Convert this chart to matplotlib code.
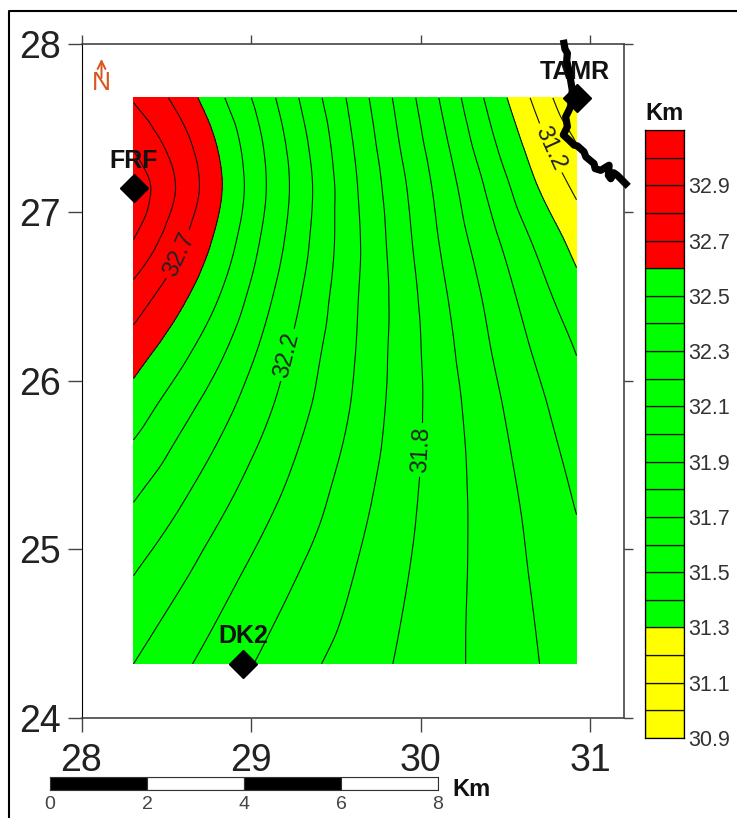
import numpy as np
import matplotlib
matplotlib.use('Agg')
import matplotlib.pyplot as plt
import matplotlib.tri as mtri
from matplotlib.lines import Line2D

plt.rcParams['font.family'] = ['Liberation Sans', 'DejaVu Sans']

# grid
grid_x = [28.307, 28.57, 28.83, 29.09, 29.35, 29.615, 29.875, 30.135, 30.40, 30.66, 30.92]
grid_y = [24.32, 24.82, 25.32, 25.83, 26.15, 26.48, 26.81, 27.145, 27.41, 27.68]
depth = [
    [32.20, 32.125, 32.05, 31.98, 31.915, 31.855, 31.79, 31.73, 31.67, 31.61, 31.55],
    [32.295, 32.215, 32.13, 32.05, 31.975, 31.895, 31.815, 31.74, 31.665, 31.595, 31.53],
    [32.41, 32.32, 32.225, 32.13, 32.04, 31.94, 31.84, 31.748, 31.658, 31.574, 31.49],
    [32.55, 32.44, 32.33, 32.215, 32.10, 31.985, 31.86, 31.748, 31.635, 31.535, 31.44],
    [32.64, 32.53, 32.405, 32.265, 32.13, 32.00, 31.865, 31.735, 31.61, 31.50, 31.40],
    [32.75, 32.625, 32.485, 32.32, 32.165, 32.01, 31.865, 31.715, 31.582, 31.457, 31.34],
    [32.89, 32.72, 32.555, 32.37, 32.195, 32.02, 31.85, 31.685, 31.54, 31.40, 31.27],
    [32.97, 32.79, 32.60, 32.40, 32.21, 32.01, 31.83, 31.655, 31.485, 31.32, 31.18],
    [32.885, 32.75, 32.575, 32.385, 32.19, 31.99, 31.80, 31.62, 31.43, 31.26, 31.10],
    [32.79, 32.67, 32.51, 32.34, 32.15, 31.96, 31.77, 31.58, 31.38, 31.19, 31.00],
]

levels = [30.9, 31.0, 31.1, 31.2, 31.3, 31.4, 31.5, 31.6, 31.7, 31.8, 31.9, 32.0,
          32.1, 32.2, 32.3, 32.4, 32.5, 32.6, 32.7, 32.8, 32.9, 33.0, 33.1]
label_levels = [31.2, 31.8, 32.2, 32.7]
plain_levels = [v for v in levels if v not in label_levels]
fill_levels = [30.9, 31.3, 32.6, 33.1]
fill_colors = ['#ffff00', '#00ff00', '#ff0000']
bar_labels = [30.9, 31.1, 31.3, 31.5, 31.7, 31.9, 32.1, 32.3, 32.5, 32.7, 32.9]

station_names = ['FRF', 'TAMR', 'DK2']
station_x = [28.307, 30.925, 28.955]
station_y = [27.145, 27.68, 24.32]
label_x = [28.307, 30.91, 28.955]
label_y = [27.305, 27.835, 24.485]

river_x = [30.846, 30.852, 30.866, 30.862, 30.87, 30.88, 30.885, 30.895, 30.885, 30.872, 30.856, 30.866,
           30.842, 30.875, 30.905, 30.925, 30.964, 30.975, 31.023, 31.03, 31.063, 31.095, 31.112, 31.108,
           31.122, 31.14, 31.161, 31.21]
river_y = [28.004, 27.97, 27.945, 27.90, 27.865, 27.82, 27.786, 27.726, 27.628, 27.60, 27.568, 27.509,
           27.46, 27.43, 27.40, 27.395, 27.36, 27.33, 27.29, 27.26, 27.25, 27.27, 27.28, 27.22,
           27.20, 27.235, 27.22, 27.17]

scale_edges = [0, 2, 4, 6]
scale_colors = ['black', 'white', 'black', 'white']
scale_ticks = [0, 2, 4, 6, 8]

W, H = 737, 818
fig = plt.figure(figsize=(W / 100, H / 100), dpi=100)


def box(left, top, right, bottom):
    return [left / W, 1 - bottom / H, (right - left) / W, (bottom - top) / H]


ax = fig.add_axes(box(81.5, 44, 624, 717.7))
ax.set_xlim(28, 31.2)
ax.set_ylim(24, 28)
X, Y = np.meshgrid(grid_x, grid_y)
tri = mtri.Triangulation(X.ravel(), Y.ravel())
interp = mtri.CubicTriInterpolator(tri, np.ravel(depth), kind='geom')
tri_fine, z_fine = mtri.UniformTriRefiner(tri).refine_field(np.ravel(depth), triinterpolator=interp, subdiv=3)
ax.tricontourf(tri_fine, z_fine, levels=fill_levels, colors=fill_colors)
ax.tricontour(tri_fine, z_fine, levels=plain_levels, colors='#111111', linewidths=0.8)
cs = ax.tricontour(tri_fine, z_fine, levels=label_levels, colors='#111111', linewidths=0.8)
ax.clabel(cs, fontsize=17, fmt='%.1f', colors='#222222', inline_spacing=4,
          manual=[(30.74, 27.37), (30.0, 25.59), (29.23, 26.15), (28.553, 26.76)])

ax.set_xlim(28, 31.2)
ax.set_ylim(24, 28)
ax.set_xticks([28, 29, 30, 31])
ax.set_yticks([24, 25, 26, 27, 28])
ax.tick_params(top=True, right=True, direction='out', length=10, width=1, color='#444444',
               labelsize=27, labelcolor='#222222')
ax.tick_params(axis='x', pad=8)
ax.tick_params(axis='y', pad=5)
for t in ax.xaxis.get_major_ticks() + ax.yaxis.get_major_ticks():
    t.tick2line.set_markersize(6.5)
for side in ['top', 'bottom', 'right']:
    ax.spines[side].set_color('#444444')
    ax.spines[side].set_linewidth(1.2)
ax.spines['left'].set_color('black')

for name, sx, sy, lx, ly in zip(station_names, station_x, station_y, label_x, label_y):
    ax.text(lx, ly, name, fontsize=18, fontweight='bold', ha='center', va='center', color='#111111', zorder=5)
    ax.plot([sx], [sy], marker='D', ms=14.4, color='black', clip_on=False, zorder=6)
ax.plot(river_x, river_y, color='black', lw=5.2, clip_on=False, zorder=7, solid_joinstyle='round')

# north arrow
ax.annotate('', xy=(101.5 / W, 1 - 59 / H), xytext=(101.5 / W, 1 - 78 / H), xycoords='figure fraction',
            textcoords='figure fraction',
            arrowprops=dict(arrowstyle='->', color='#d9541e', lw=1.4, shrinkA=0, shrinkB=0, mutation_scale=14))
fig.text(101.5 / W, 1 - 83.5 / H, 'N', fontsize=19, color='#d9541e', ha='center', va='center')

# colour bar
cax = fig.add_axes(box(645, 130, 684, 738))
for lo, hi in zip(levels[:-1], levels[1:]):
    col = fill_colors[np.searchsorted(fill_levels, lo, side='right') - 1]
    cax.bar(0, hi - lo, bottom=lo, width=1, color=col, edgecolor='#111111', linewidth=0.9)
cax.set_xlim(-0.5, 0.5)
cax.set_ylim(30.9, 33.1)
cax.set_xticks([])
cax.yaxis.tick_right()
cax.set_yticks(bar_labels)
cax.set_yticklabels(['%.1f' % v for v in bar_labels])
cax.tick_params(axis='y', length=0, pad=3, labelsize=15.5, labelcolor='#333333')
for s in cax.spines.values():
    s.set_linewidth(0.9)
fig.text(664.5 / W, 1 - 113 / H, 'Km', fontsize=17, fontweight='bold', ha='center', va='center', color='#111111')

# scale bar
sax = fig.add_axes(box(50, 777, 438, 790))
for edge, col in zip(scale_edges, scale_colors):
    sax.barh(0, 2, left=edge, height=1, color=col, edgecolor='#333333', linewidth=0.8)
sax.set_xlim(0, 8)
sax.set_ylim(-0.5, 0.5)
sax.set_yticks([])
sax.set_xticks(scale_ticks)
sax.tick_params(axis='x', length=0, pad=4, labelsize=14, labelcolor='#444444')
for s in sax.spines.values():
    s.set_linewidth(0.8)
    s.set_color('#333333')
fig.text(452 / W, 1 - 790 / H, 'Km', fontsize=17, fontweight='bold', ha='left', va='center', color='#111111')

# page frame
fig.add_artist(Line2D([8.5 / W, 8.5 / W, 1], [0, 1 - 11 / H, 1 - 11 / H], color='black', lw=1.5))

fig.savefig('out.png', dpi=100)
